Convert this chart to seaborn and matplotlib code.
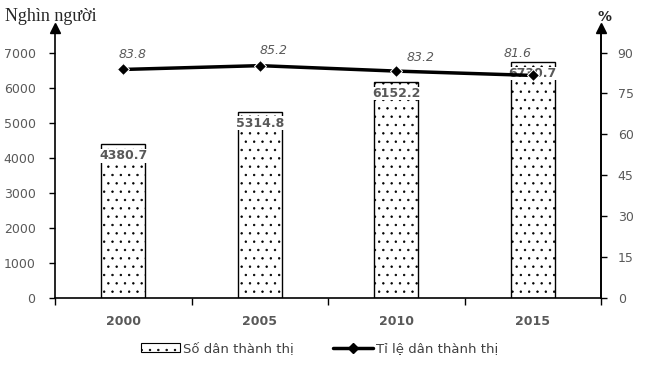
import matplotlib
matplotlib.use("Agg")
import matplotlib.pyplot as plt
import seaborn as sns
import pandas as pd
from matplotlib.patches import Patch
from matplotlib.lines import Line2D

years = ["2000", "2005", "2010", "2015"]
population = [4380.7, 5314.8, 6152.2, 6730.7]
urban_rate = [83.8, 85.2, 83.2, 81.6]
# pixel offsets of the % labels from their points, as placed in the original
rate_label_offsets = [(9, 15), (14, 15), (24, 14), (-15, 22)]

df = pd.DataFrame({"year": years, "pop": population, "rate": urban_rate})

sns.set_style("white")
plt.rcParams["font.family"] = ["DejaVu Sans"]
plt.rcParams["hatch.linewidth"] = 0.5

fig = plt.figure(figsize=(6.45, 3.67), dpi=100)
ax = fig.add_axes([0.0853, 0.188, 0.8465, 0.7357])
grey = "#595959"

sns.barplot(data=df, x="year", y="pop", ax=ax, width=0.32, color="white",
            edgecolor="black", linewidth=1, hatch="..")
ax.set_xlim(-0.5, 3.5)
ax.set_ylim(0, 7700)
ax.set_yticks(range(0, 7001, 1000))
ax.set_xlabel("")
ax.set_ylabel("")

for i, v in enumerate(population):
    ax.text(i, v - 140, f"{v:.1f}", ha="center", va="top", fontsize=9,
            fontweight="bold", color=grey,
            bbox=dict(facecolor="white", edgecolor="none", pad=0.2))

ax2 = ax.twinx()
sns.lineplot(x=range(len(years)), y=urban_rate, ax=ax2, color="black",
             linewidth=2.5, marker="D", markersize=6)
ax2.set_ylim(0, 99)
ax2.set_yticks(range(0, 91, 15))
ax2.set_xlim(-0.5, 3.5)
for i, v in enumerate(urban_rate):
    dx, dy = rate_label_offsets[i]
    ax2.annotate(f"{v}", xy=(i, v), xytext=(dx, dy), textcoords="offset pixels",
                 ha="center", va="center", fontsize=9, style="italic",
                 color=grey)

for a in (ax, ax2):
    a.spines["top"].set_visible(False)
    for s in a.spines.values():
        s.set_color("black")
        s.set_linewidth(1.2)
ax2.spines["left"].set_visible(False)
ax2.spines["bottom"].set_visible(False)

ax.tick_params(axis="y", which="both", direction="out", length=4, width=1,
               colors="black", labelcolor=grey, labelsize=9, left=True, pad=10)
ax2.tick_params(axis="y", direction="out", length=4, width=1, colors="black",
                labelcolor=grey, labelsize=9, right=True, pad=8)
ax.set_xticks([0, 1, 2, 3])
ax.set_xticklabels(years, fontweight="bold", color=grey, fontsize=9)
ax.tick_params(axis="x", which="major", length=0, pad=12)
ax.set_xticks([-0.5, 0.5, 1.5, 2.5, 3.5], minor=True)
ax.tick_params(axis="x", which="minor", length=5, width=1, direction="out",
               bottom=True, colors="black")

# arrow heads on the vertical axes
ax.plot(0, 1, marker="^", color="black", markersize=7, transform=ax.transAxes,
        clip_on=False)
ax.plot(1, 1, marker="^", color="black", markersize=7, transform=ax.transAxes,
        clip_on=False)

fig.text(0.008, 0.955, "Nghìn người", fontsize=13, family="Liberation Serif",
         ha="left", va="center")
fig.text(0.937, 0.955, "%", fontsize=10, fontweight="bold", ha="center",
         va="center")

handles = [
    Patch(facecolor="white", edgecolor="black", hatch="..", linewidth=0.8,
          label="Số dân thành thị"),
    Line2D([0], [0], color="black", linewidth=2.5, marker="D", markersize=5,
           label="Tỉ lệ dân thành thị"),
]
fig.legend(handles=handles, loc="center", bbox_to_anchor=(0.495, 0.05), ncol=2,
           frameon=False, fontsize=9.5, handlelength=3, handletextpad=0.2,
           columnspacing=3, labelcolor="#404040")

fig.savefig("out.png", dpi=100)
